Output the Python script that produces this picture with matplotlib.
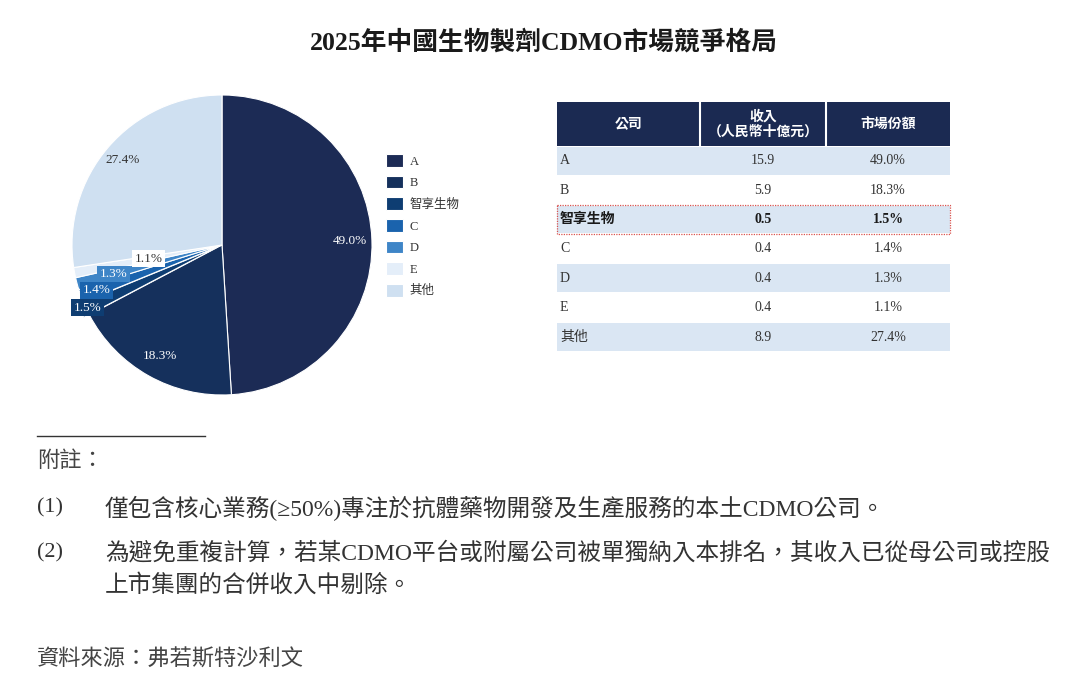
import matplotlib
matplotlib.use("Agg")
import numpy as np
import matplotlib.pyplot as plt
from matplotlib.patches import Rectangle

# ------------------------------------------------------------------ #
# Data
# ------------------------------------------------------------------ #
companies = ["A", "B", "智享生物", "C", "D", "E", "其他"]
revenue = ["15.9", "5.9", "0.5", "0.4", "0.4", "0.4", "8.9"]
share = [49.0, 18.3, 1.5, 1.4, 1.3, 1.1, 27.4]
colors = ["#1c2b55", "#15305c", "#0e3d72", "#1a63ad", "#3e85c7", "#e4eef9", "#cfe0f1"]
highlight = 2

title = "2025年中國生物製劑CDMO市場競爭格局"
header = ["公司", "收入\n（人民幣十億元）", "市場份額"]
note_head = "附註："
notes = [
    ("(1)", ["僅包含核心業務(≥50%)專注於抗體藥物開發及生產服務的本土CDMO公司。"]),
    ("(2)", ["為避免重複計算，若某CDMO平台或附屬公司被單獨納入本排名，其收入已從母公司或控股",
             "上市集團的合併收入中剔除。"]),
]
source = "資料來源：弗若斯特沙利文"

FONT = ["Liberation Serif", "Noto Sans CJK TC"]
plt.rcParams["font.family"] = FONT
TXT = "#333333"

W, H = 1080, 691
fig = plt.figure(figsize=(W / 100, H / 100), dpi=100)
fig.patch.set_facecolor("white")

# overlay in pixel coordinates for title, table and notes
ov = fig.add_axes([0, 0, 1, 1])
ov.set_xlim(0, W)
ov.set_ylim(H, 0)
ov.axis("off")

ov.text(544, 42, title, ha="center", va="center", fontsize=18.5, fontweight="bold", color="#1a1a1a")

# ------------------------------------------------------------------ #
# Pie
# ------------------------------------------------------------------ #
cx, cy, R = 222, 245, 150
size = 2.2 * R
ax = fig.add_axes([(cx - size / 2) / W, (H - cy - size / 2) / H, size / W, size / H])
ax.patch.set_alpha(0)

explode = [0.04 if i == highlight else 0 for i in range(len(share))]
wedges, _ = ax.pie(share, colors=colors, startangle=90, counterclock=False,
                   explode=explode, radius=1.0,
                   wedgeprops=dict(edgecolor="white", linewidth=0.8))
ax.set_xlim(-1.1, 1.1)
ax.set_ylim(-1.1, 1.1)
ax.set_aspect("equal")
ax.axis("off")

label_r = [0.85, 0.85, 0.99, 0.89, 0.75, 0.5, 0.87]
for i, w in enumerate(wedges):
    ang = np.deg2rad((w.theta1 + w.theta2) / 2)
    x, y = label_r[i] * np.cos(ang), label_r[i] * np.sin(ang)
    txt = f"{share[i]:.1f}%"
    small = share[i] < 5
    tcol = "white" if i < 5 else TXT
    kw = {}
    if small:
        bg = "white" if i == 5 else colors[i]
        kw["bbox"] = dict(boxstyle="square,pad=0.18", facecolor=bg, edgecolor="none")
    ax.text(x, y, txt, ha="center", va="center", fontsize=9.5, color=tcol, **kw)

leg = ax.legend(wedges, companies, loc="upper left",
                bbox_to_anchor=(386 / W, 1 - 154 / H), bbox_transform=fig.transFigure,
                frameon=False, fontsize=9, handlelength=1.35, handleheight=1.2,
                labelspacing=0.64, handletextpad=0.55, borderpad=0, borderaxespad=0)
for t in leg.get_texts():
    t.set_color(TXT)

# ------------------------------------------------------------------ #
# Table
# ------------------------------------------------------------------ #
col_x = [557, 700, 826, 950]
head_top, head_bot = 102, 146
row_h = 29.4
ov.add_patch(Rectangle((col_x[0], head_top), col_x[-1] - col_x[0], head_bot - head_top,
                       facecolor="#1b2a52", edgecolor="none"))
for xs in col_x[1:-1]:
    ov.plot([xs, xs], [head_top, head_bot], color="white", lw=1.5)
for j, h in enumerate(header):
    xc = (col_x[j] + col_x[j + 1]) / 2
    ov.text(xc, (head_top + head_bot) / 2, h, ha="center", va="center", fontsize=10,
            color="white", fontweight="bold", linespacing=1.15)

for i, name in enumerate(companies):
    y0 = head_bot + i * row_h
    if i % 2 == 0:
        ov.add_patch(Rectangle((col_x[0], y0 + 0.8), col_x[-1] - col_x[0], row_h - 1.6,
                               facecolor="#dae6f3", edgecolor="none"))
    yc = y0 + row_h / 2
    fw = "bold" if i == highlight else "normal"
    tc = "#1a1a1a" if i == highlight else TXT
    ov.text(col_x[0] + 3, yc, name, ha="left", va="center", fontsize=10, color=tc, fontweight=fw)
    ov.text((col_x[1] + col_x[2]) / 2, yc, revenue[i], ha="center", va="center",
            fontsize=10, color=tc, fontweight=fw)
    ov.text((col_x[2] + col_x[3]) / 2, yc, f"{share[i]:.1f}%", ha="center", va="center",
            fontsize=10, color=tc, fontweight=fw)
    if i == highlight:
        ov.add_patch(Rectangle((col_x[0], y0), col_x[-1] - col_x[0], row_h,
                               facecolor="none", edgecolor="#d9534f", lw=0.9, ls=(0, (1, 1))))

# ------------------------------------------------------------------ #
# Notes
# ------------------------------------------------------------------ #
ov.plot([37, 205], [436, 436], color="#333333", lw=1)
ov.text(37, 462, note_head, ha="left", va="center", fontsize=16, color="#444444", style="italic")
y = 508
for num, lines in notes:
    ov.text(37, y, num, ha="left", va="center", fontsize=16, color=TXT)
    for ln in lines:
        ov.text(105, y, ln, ha="left", va="center", fontsize=17, color=TXT)
        y += 32
    y += 13
ov.text(37, 660, source, ha="left", va="center", fontsize=16, color="#444444", style="italic")

fig.savefig("out.png", dpi=100)
